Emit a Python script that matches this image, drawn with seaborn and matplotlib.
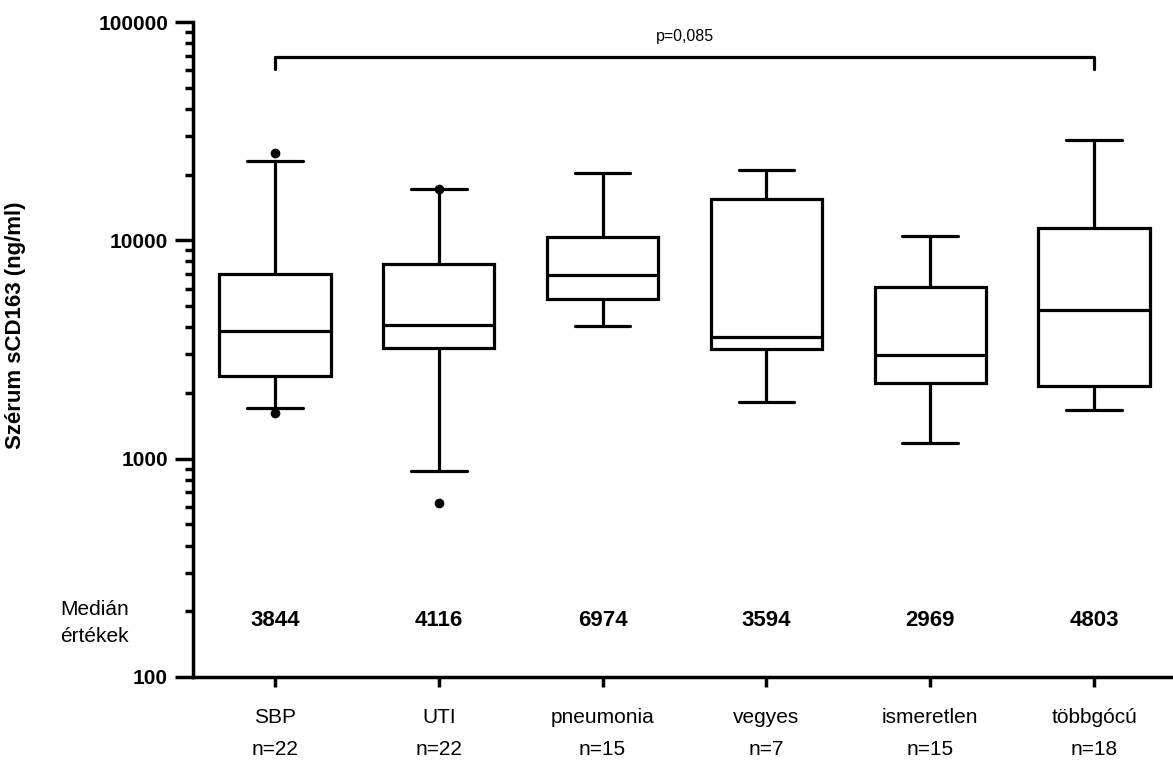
import numpy as np
import pandas as pd
import matplotlib
matplotlib.use("Agg")
import matplotlib.pyplot as plt
import seaborn as sns
from matplotlib.ticker import FixedLocator, LogLocator, NullFormatter, FixedFormatter

# ---- data ----
groups = ["SBP", "UTI", "pneumonia", "vegyes", "ismeretlen", "többgócú"]
n_counts = [22, 22, 15, 7, 15, 18]
whisker_low = [1700, 878, 4040, 1811, 1175, 1665]
q1 = [2400, 3200, 5380, 3170, 2220, 2163]
median = [3844, 4116, 6974, 3594, 2969, 4803]
q3 = [7030, 7790, 10350, 15460, 6110, 11340]
whisker_high = [23000, 17100, 20270, 20930, 10430, 28700]
outlier_group = ["SBP", "SBP", "UTI", "UTI"]
outlier_value = [25200, 1623, 17100, 624]
median_labels = ["3844", "4116", "6974", "3594", "2969", "4803"]
y_ticks = [100, 1000, 10000, 100000]
y_tick_labels = ["100", "1000", "10000", "100000"]
p_text = "p=0,085"
p_pair = ("SBP", "többgócú")
bracket_top = 69200
bracket_bottom = 60900
p_text_y = 86000
median_text_y = 182

# five-number summaries as long-form table
rows = []
for g, a, b, c, d, e in zip(groups, whisker_low, q1, median, q3, whisker_high):
    for v in (a, b, c, d, e):
        rows.append({"group": g, "value": v})
df = pd.DataFrame(rows)
out_df = pd.DataFrame({"group": outlier_group, "value": outlier_value})

sns.set_theme(style="ticks")
plt.rcParams["font.family"] = ["Liberation Sans", "DejaVu Sans"]
for k in ["text.color", "axes.labelcolor", "xtick.color", "ytick.color", "axes.edgecolor"]:
    plt.rcParams[k] = "black"

fig = plt.figure(figsize=(11.73, 7.65), dpi=100)
ax = fig.add_axes([193 / 1173, 1 - 677 / 765, 983 / 1173, 655 / 765])

lw = 2.3
sns.boxplot(data=df, x="group", y="value", order=groups, whis=(0, 100),
            width=0.68, color="white", linecolor="black", linewidth=lw,
            showfliers=False, log_scale=True, ax=ax,
            medianprops={"color": "black", "linewidth": lw},
            capprops={"color": "black", "linewidth": lw},
            whiskerprops={"color": "black", "linewidth": lw})
sns.stripplot(data=out_df, x="group", y="value", order=groups, jitter=False,
              color="black", size=7, linewidth=0, ax=ax)

ax.set_ylim(100, 100000)
ax.set_xlim(-0.5, len(groups) - 0.5)

# y axis ticks
ax.yaxis.set_major_locator(FixedLocator(y_ticks))
ax.yaxis.set_major_formatter(FixedFormatter(y_tick_labels))
ax.yaxis.set_minor_locator(LogLocator(base=10, subs=np.arange(2, 10)))
ax.yaxis.set_minor_formatter(NullFormatter())
ax.tick_params(axis="y", which="major", length=13, width=2.5, labelsize=15,
               pad=5, colors="black")
ax.tick_params(axis="y", which="minor", length=6, width=2.5, colors="black")
for t in ax.get_yticklabels():
    t.set_fontweight("bold")

# x axis ticks
ax.set_xticks(range(len(groups)))
ax.set_xticklabels([f"{g}\nn={n}" for g, n in zip(groups, n_counts)], fontsize=15)
ax.tick_params(axis="x", which="major", length=7, width=2.5, pad=15, colors="black")
ax.tick_params(axis="x", which="minor", length=0)
for t in ax.get_xticklabels():
    t.set_linespacing(1.92)

ax.set_xlabel("")
ax.set_ylabel("Szérum sCD163 (ng/ml)", fontsize=16, fontweight="bold", color="black")
ax.yaxis.set_label_coords(-0.170, 0.537)

for s in ["top", "right"]:
    ax.spines[s].set_visible(False)
for s in ["left", "bottom"]:
    ax.spines[s].set_linewidth(2.5)
    ax.spines[s].set_color("black")
ax.grid(False)

# median annotations
for i, lab in enumerate(median_labels):
    ax.text(i, median_text_y, lab, ha="center", va="center",
            fontsize=16, fontweight="bold", color="black")
fig.text(60 / 1173, 1 - 623 / 765, "Medián\nértékek", ha="left", va="center",
         fontsize=15, linespacing=1.55, color="black")

# significance bracket
x0, x1 = groups.index(p_pair[0]), groups.index(p_pair[1])
ax.plot([x0, x0, x1, x1], [bracket_bottom, bracket_top, bracket_top, bracket_bottom],
        color="black", linewidth=lw, clip_on=False)
ax.text((x0 + x1) / 2, p_text_y, p_text, ha="center", va="center",
        fontsize=11.5, color="black")

fig.savefig("out.png", dpi=100)
